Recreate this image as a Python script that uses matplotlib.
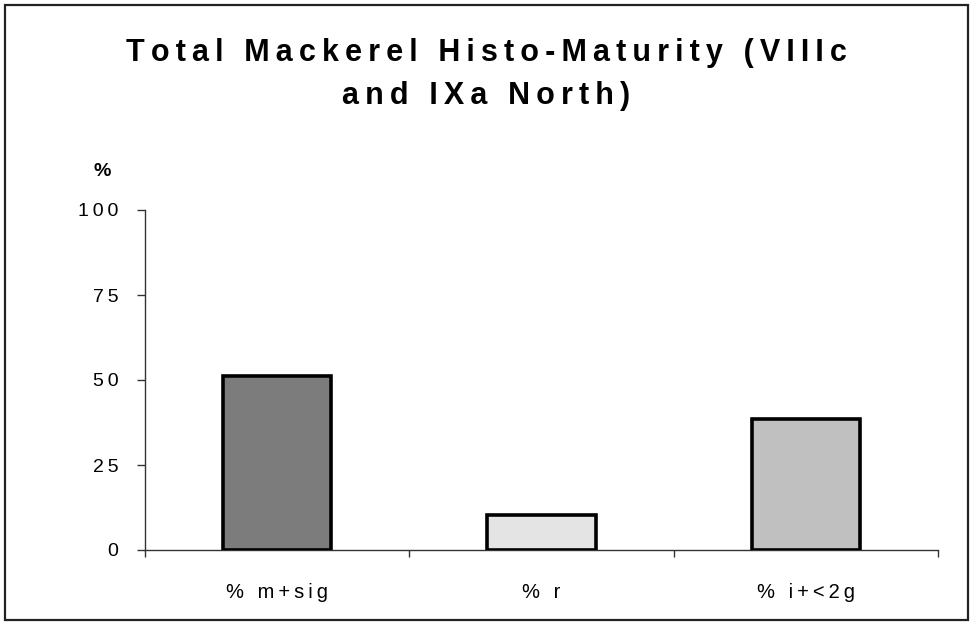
import matplotlib
matplotlib.use("Agg")
import matplotlib.pyplot as plt
from matplotlib.patches import Rectangle

plt.rcParams['font.family'] = ['Liberation Sans', 'DejaVu Sans']

# Data
categories = ["% m+sig", "% r", "% i+<2g"]
values = [51.2, 10.3, 38.5]
bar_colors = ['#7c7c7c', '#e4e4e4', '#c0c0c0']
y_ticks = [0, 25, 50, 75, 100]
title_lines = ["Total Mackerel Histo-Maturity (VIIIc", "and IXa North)"]

THIN = '\u2009'


# Spread the letters out like the original's letter-spaced text
def spaced(text, gap=THIN):
    words = text.split(' ')
    return (gap + ' ' + gap).join(gap.join(w) for w in words)


fig = plt.figure(figsize=(9.74, 6.28), dpi=100)

# Outer border of the chart area
fig.patches.append(Rectangle((5 / 974, 8 / 628), 963 / 974, 615 / 628,
                             transform=fig.transFigure, fill=False,
                             edgecolor='#222222', linewidth=1.6))

ax = fig.add_axes([145 / 974, 1 - 550 / 628, 793 / 974, 340 / 628])

x = range(len(categories))
ax.bar(x, values, width=0.41, color=bar_colors, edgecolor='black', linewidth=2.6, zorder=3)

ax.set_xlim(-0.5, len(categories) - 0.5)
ax.set_ylim(0, 100)

ax.spines['top'].set_visible(False)
ax.spines['right'].set_visible(False)
for side in ['left', 'bottom']:
    ax.spines[side].set_color('#333333')
    ax.spines[side].set_linewidth(1.0)

ax.set_yticks(y_ticks)
ax.set_yticklabels([spaced(str(t)) for t in y_ticks], fontsize=14)
ax.tick_params(axis='y', length=6, width=1, color='#333333', pad=13)

# category labels at bar centres, tick marks between categories
ax.set_xticks(list(x))
ax.set_xticklabels([spaced(c) for c in categories], fontsize=14.5)
ax.tick_params(axis='x', which='major', length=0, pad=24)
ax.set_xticks([i - 0.5 for i in range(len(categories) + 1)], minor=True)
ax.tick_params(axis='x', which='minor', length=5, width=1, color='#333333')

fig.text(102 / 974, 1 - 171 / 628, '%', fontsize=14, fontweight='bold',
         ha='center', va='center')

fig.text(486 / 974, 1 - 53 / 628, spaced(title_lines[0]), fontsize=22,
         fontweight='bold', ha='center', va='center')
fig.text(486 / 974, 1 - 96 / 628, spaced(title_lines[1]), fontsize=22,
         fontweight='bold', ha='center', va='center')

fig.savefig('out.png', dpi=100)
